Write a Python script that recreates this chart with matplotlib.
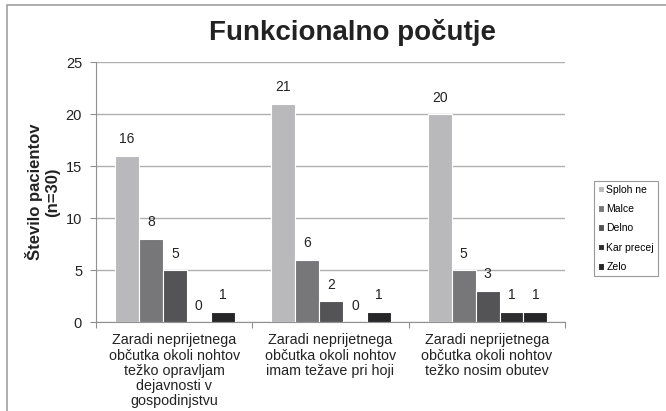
import numpy as np
import matplotlib
matplotlib.use("Agg")
import matplotlib.pyplot as plt
from matplotlib.patches import Rectangle

plt.rcParams['font.family'] = ['Liberation Sans', 'DejaVu Sans']

kategorije = [
    "Zaradi neprijetnega\nobčutka okoli nohtov\ntežko opravljam\ndejavnosti v\ngospodinjstvu",
    "Zaradi neprijetnega\nobčutka okoli nohtov\nimam težave pri hoji",
    "Zaradi neprijetnega\nobčutka okoli nohtov\ntežko nosim obutev",
]
odgovori = ["Sploh ne", "Malce", "Delno", "Kar precej", "Zelo"]
sploh_ne = [16, 21, 20]
malce = [8, 6, 5]
delno = [5, 2, 3]
kar_precej = [0, 0, 1]
zelo = [1, 1, 1]
barve = ["#b9b9bb", "#77777a", "#545456", "#2e2e30", "#262628"]

serije = [sploh_ne, malce, delno, kar_precej, zelo]

fig = plt.figure(figsize=(6.66, 4.11), dpi=100)
ax = fig.add_axes([0.1441, 0.2165, 0.7042, 0.6326])

# okvir okoli slike
fig.patches.append(Rectangle((7 / 666, -0.1), 1.2, 1 - 5 / 411 + 0.1,
                             transform=fig.transFigure, fill=False,
                             edgecolor="#a0a0a0", linewidth=1.2))

x = np.arange(len(kategorije))
w = 0.153
for i, (vals, c) in enumerate(zip(serije, barve)):
    pos = x - 2 * w + i * w + 0.005
    bars = ax.bar(pos, vals, width=w, color=c, edgecolor="white",
                  linewidth=0.8, label=odgovori[i], zorder=3)
    for b, v in zip(bars, vals):
        ax.text(b.get_x() + b.get_width() / 2, v + 0.9, str(v),
                ha="center", va="bottom", fontsize=10, color="#222222")

ax.set_xlim(-0.5, 2.5)
ax.set_ylim(0, 25)
ax.set_yticks([0, 5, 10, 15, 20, 25])
ax.yaxis.grid(True, color="#b0b0b0", linewidth=1, zorder=0)
ax.tick_params(axis="y", length=4, color="#909090", labelsize=10.5,
               labelcolor="#222222", pad=6)

ax.set_xticks([-0.5, 0.5, 1.5, 2.5])
ax.set_xticklabels([])
ax.tick_params(axis="x", length=4, color="#909090")
for xi, lab in zip(x, kategorije):
    ax.text(xi, -1.1, lab, ha="center", va="top", fontsize=10.3,
            color="#222222", linespacing=1.1)

for s in ["top", "right"]:
    ax.spines[s].set_visible(False)
ax.spines["left"].set_color("#909090")
ax.spines["bottom"].set_color("#909090")

ax.set_ylabel("Število pacientov\n(n=30)", fontsize=12, fontweight="bold",
              labelpad=4, color="#222222")

fig.text(0.529, 0.922, "Funkcionalno počutje", ha="center", va="center",
         fontsize=20, fontweight="bold", color="#222222")

leg = ax.legend(loc="center left", bbox_to_anchor=(1.05, 0.36),
                fontsize=7.5, frameon=True, fancybox=False,
                handlelength=0.6, handleheight=0.6, handletextpad=0.2,
                labelspacing=0.9, borderpad=0.4)
leg.get_frame().set_edgecolor("#808080")
leg.get_frame().set_linewidth(0.8)

fig.savefig("out.png", dpi=100)
